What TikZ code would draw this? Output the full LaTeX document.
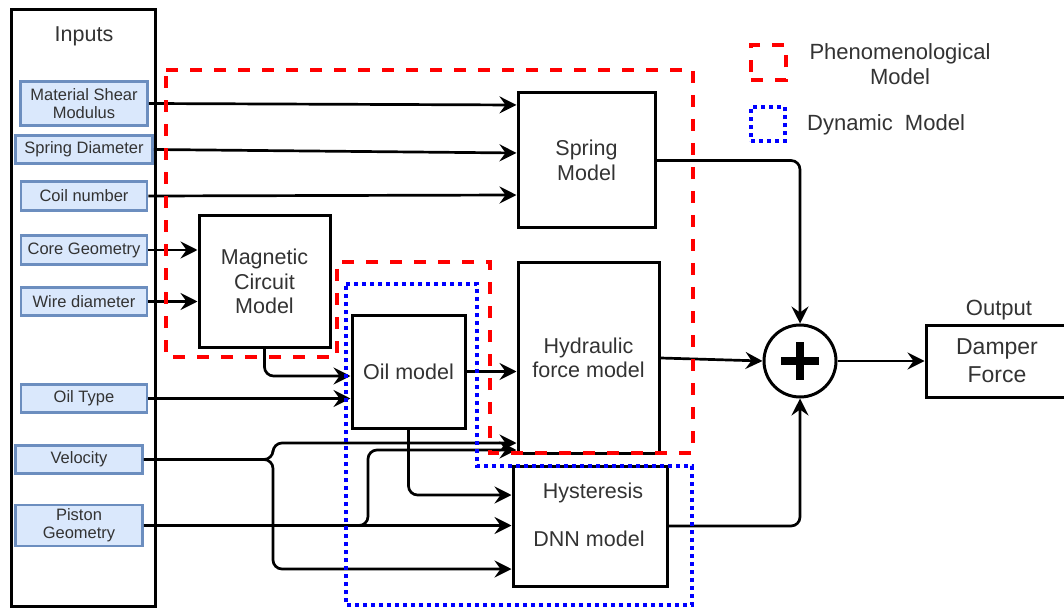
\documentclass[tikz,border=0pt]{standalone}
\usepackage{fontspec}
\setmainfont{Liberation Sans}
\usetikzlibrary{arrows.meta}
\definecolor{txt}{HTML}{333333}
\definecolor{inpfill}{HTML}{DAE8FC}
\definecolor{inpdraw}{HTML}{6C8EBF}
\definecolor{phenred}{HTML}{FF0000}
\definecolor{dynblue}{HTML}{0000FF}
\begin{document}
\begin{tikzpicture}[x=1pt,y=-1pt,
 box/.style={draw=black,line width=3pt,fill=white,inner sep=0pt,align=center,text=txt,font=\fontsize{21.5}{24.5}\selectfont},
 inp/.style={draw=inpdraw,fill=inpfill,line width=2.7pt,inner sep=0pt,align=center,text=txt,font=\fontsize{16.5}{18}\selectfont},
 lbl/.style={inner sep=0pt,text=txt,align=center,font=\fontsize{21.5}{24.5}\selectfont},
 conn/.style={draw=black,line width=2.7pt,-{Stealth[length=17pt,width=17pt,inset=6pt]},rounded corners=9pt},
 phen/.style={draw=phenred,line width=4pt,dash pattern=on 12pt off 12pt},
 dyn/.style={draw=dynblue,line width=4pt,dash pattern=on 4pt off 4pt},
]
\useasboundingbox (0,0) rectangle (1064,609);
\fill[white] (0,0) rectangle (1064,609);

% Inputs column
\node[draw=black,line width=3pt,inner sep=0pt,minimum width=144pt,minimum height=596pt] (inputs) at (83,308) {};
\node[lbl] (inputslbl) at (84,36) {Inputs};
\node[inp,minimum width=127pt,minimum height=44pt] (msm) at (84,103.5) {Material Shear\\Modulus};
\node[inp,minimum width=137pt,minimum height=28pt] (sd) at (84,149.5) {Spring Diameter};
\node[inp,minimum width=126pt,minimum height=29pt] (coil) at (84,196) {Coil number};
\node[inp,minimum width=126pt,minimum height=29pt] (core) at (84,250) {Core Geometry};
\node[inp,minimum width=126pt,minimum height=28pt] (wire) at (84,301.5) {Wire diameter};
\node[inp,minimum width=126pt,minimum height=28pt] (oiltype) at (84,398.5) {Oil Type};
\node[inp,minimum width=127pt,minimum height=28pt] (vel) at (79,459.5) {Velocity};
\node[inp,minimum width=127pt,minimum height=41pt] (piston) at (79,525.5) {Piston\\Geometry};

% Model boxes
\node[box,minimum width=137pt,minimum height=135pt] (spring) at (586.5,160.5) {Spring\\Model};
\node[box,minimum width=131pt,minimum height=131pt] (mag) at (264.5,281.5) {Magnetic\\Circuit\\Model};
\node[box,minimum width=113pt,minimum height=113pt] (oil) at (408.5,371.5) {Oil model};
\node[box,minimum width=141pt,minimum height=190pt] (hyd) at (588.5,358) {Hydraulic\\force model};
\node[box,minimum width=154pt,minimum height=120pt] (hyst) at (590,526) {};
\node[lbl] (hystA) at (593,493) {Hysteresis};
\node[lbl] (hystB) at (589,539) {DNN model};

% Sum and output
\node[circle,draw=black,line width=3pt,fill=white,minimum size=72pt,inner sep=0pt] (sum) at (800,361) {};
\draw[line width=8pt] (sum.center) +(-19,0) -- +(19,0);
\draw[line width=8pt] (sum.center) +(0,-19) -- +(0,19);
\node[box,minimum width=142pt,minimum height=72pt,font=\fontsize{23}{28}\selectfont] (damper) at (997,361) {Damper\\Force};
\node[lbl,font=\fontsize{22}{26}\selectfont] (outlbl) at (999,310) {Output};

% Connectors
\draw[conn] (msm.east) -- (spring.west |- 0,105);
\draw[conn] (sd.east) -- (spring.west |- 0,153);
\draw[conn] (coil.east) -- (spring.west |- 0,195);
\draw[conn] (core.east) -- (mag.west |- core.east);
\draw[conn] (wire.east) -- (mag.west |- wire.east);
\draw[conn] (mag.south) -- (mag.south |- 0,376) -- (oil.west |- 0,376);
\draw[conn] (oiltype.east) -- (oil.west |- oiltype.east);
\draw[conn] (oil.east) -- (hyd.west |- oil.east);
\draw[conn] (oil.south) -- (oil.south |- 0,495) -- (hyst.west |- 0,495);
\draw[conn] (vel.east) -- (273,459.5) -- (273,443) -- (hyd.west |- 0,443);
\draw[conn] (vel.east) -- (273,459.5) -- (273,569) -- (hyst.west |- 0,569);
\draw[conn] (piston.east) -- (hyst.west |- piston.east);
\draw[conn] (piston.east) -- (368,525.5) -- (368,450) -- (hyd.west |- 0,450);
\draw[conn] (spring.east) -| (sum.north);
\draw[conn] (hyd.east) -- (sum.west);
\draw[conn] (hyst.east) -| (sum.south);
\draw[conn] (sum.east) -- (damper.west);

% Model regions
\draw[phen] (166,70) -- (693,70) -- (693,453) -- (490,453) -- (490,262) -- (337,262) -- (337,357) -- (166,357) -- cycle;
\draw[dyn] (346,284) -- (477,284) -- (477,466) -- (692,466) -- (692,605) -- (346,605) -- cycle;

% Legend
\node[phen,minimum size=35pt,inner sep=0pt] (legphen) at (768.5,63) {};
\node[lbl,font=\fontsize{22}{25}\selectfont] (legphenlbl) at (900,64) {Phenomenological\\Model};
\node[dyn,minimum size=34pt,inner sep=0pt] (legdyn) at (768,124.5) {};
\node[lbl,anchor=west,font=\fontsize{22}{25}\selectfont] (legdynlbl) at (807,125) {Dynamic\ \ Model};
\end{tikzpicture}
\end{document}
